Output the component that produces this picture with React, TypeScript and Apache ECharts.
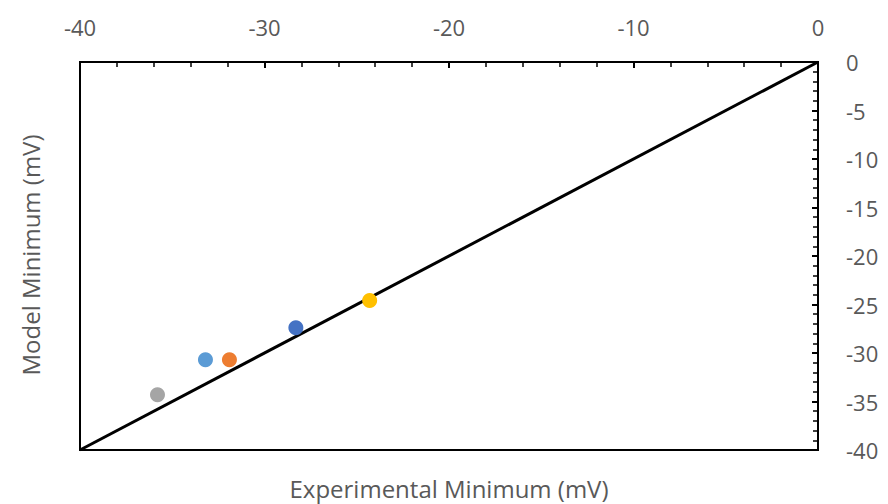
import React, { useEffect, useRef } from "react";
import * as echarts from "echarts";

// Measured minima (mV): experimental vs model, one point per cell type
const pointNames = ["A", "B", "C", "D", "E"];
const experimental = [-35.8, -33.2, -31.9, -28.3, -24.3];
const model = [-34.3, -30.7, -30.7, -27.4, -24.6];
const pointColors = ["#A5A5A5", "#5B9BD5", "#ED7D31", "#4472C4", "#FFC000"];

// Identity reference line
const identityLine = [
  [-40, -40],
  [0, 0],
];

const xTitle = "Experimental Minimum (mV)";
const yTitle = "Model Minimum (mV)";

const FONT = "'Open Sans', Lato, sans-serif";

export default function App() {
  const ref = useRef<HTMLDivElement>(null);

  useEffect(() => {
    if (!ref.current) return;
    const chart = echarts.init(ref.current, undefined, { renderer: "svg" });

    const scatterSeries = pointNames.map((name, i) => ({
      name,
      type: "scatter" as const,
      data: [[experimental[i], model[i]]],
      symbolSize: 15,
      itemStyle: { color: pointColors[i], opacity: 1 },
      z: 3,
    }));

    chart.setOption({
      animation: false,
      backgroundColor: "#ffffff",
      textStyle: { fontFamily: FONT },
      grid: {
        left: 80,
        right: 70,
        top: 62,
        bottom: 54,
        outerBoundsMode: "none",
        containLabel: false,
        show: true,
        borderColor: "#000000",
        borderWidth: 2,
      },
      xAxis: {
        type: "value",
        position: "top",
        min: -40,
        max: 0,
        interval: 10,
        axisLine: { show: true, lineStyle: { color: "#000000", width: 2 } },
        axisTick: { show: true, inside: true, length: 6, lineStyle: { color: "#000000", width: 2 } },
        minorTick: { show: true, splitNumber: 5, length: 5, lineStyle: { color: "#000000", width: 1.5 } },
        axisLabel: { fontSize: 22, color: "#595959", margin: 24, fontFamily: FONT },
        splitLine: { show: false },
      },
      yAxis: {
        type: "value",
        position: "right",
        min: -40,
        max: 0,
        interval: 5,
        axisLine: { show: true, lineStyle: { color: "#000000", width: 2 } },
        axisTick: { show: true, inside: true, length: 6, lineStyle: { color: "#000000", width: 2 } },
        minorTick: { show: true, splitNumber: 5, length: 5, lineStyle: { color: "#000000", width: 1.5 } },
        axisLabel: { fontSize: 22, color: "#595959", margin: 28, fontFamily: FONT },
        splitLine: { show: false },
      },
      graphic: [
        {
          type: "text",
          x: 449,
          y: 488,
          style: {
            text: xTitle,
            fill: "#595959",
            font: `24px ${FONT}`,
            lineHeight: 28,
            textAlign: "center",
            textVerticalAlign: "middle",
          },
        },
        {
          type: "text",
          x: 30,
          y: 255,
          rotation: Math.PI / 2,
          style: {
            text: yTitle,
            fill: "#595959",
            font: `24px ${FONT}`,
            lineHeight: 28,
            textAlign: "center",
            textVerticalAlign: "middle",
          },
        },
      ],
      series: [
        {
          name: "identity",
          type: "line",
          data: identityLine,
          symbol: "none",
          lineStyle: { color: "#000000", width: 3 },
          z: 2,
        },
        ...scatterSeries,
      ],
    });

    return () => chart.dispose();
  }, []);

  return (
    <div
      ref={ref}
      style={{ position: "fixed", left: 0, top: 0, width: 888, height: 504 }}
    />
  );
}
